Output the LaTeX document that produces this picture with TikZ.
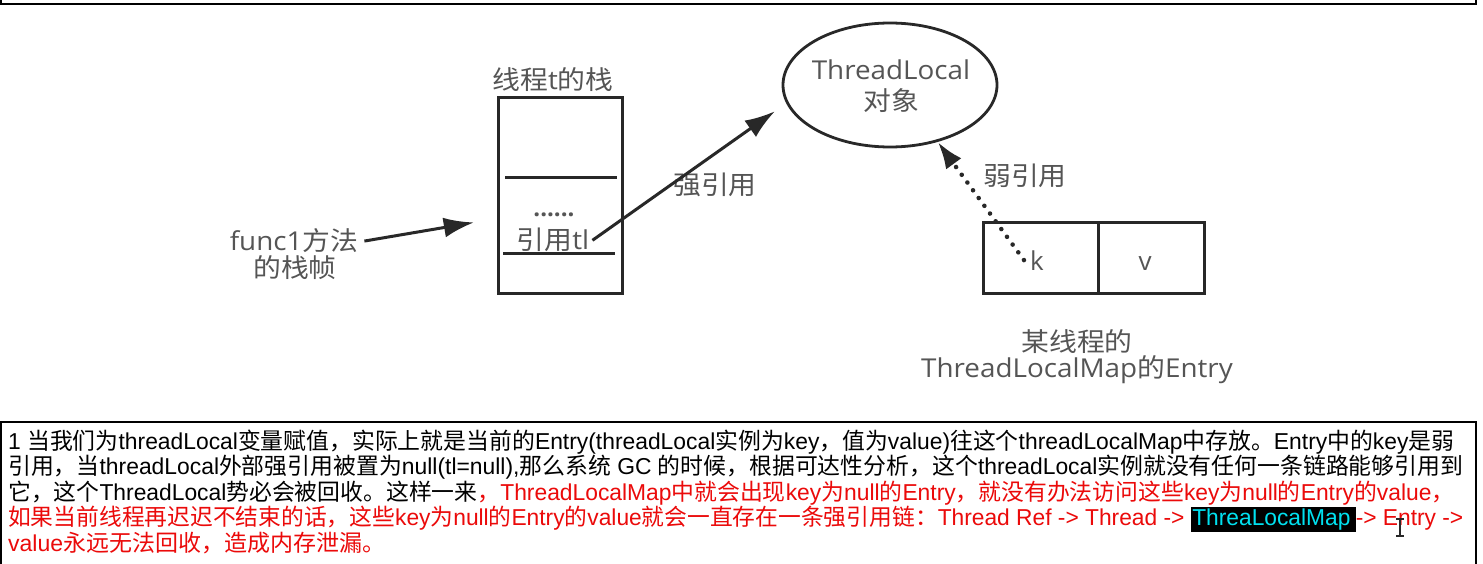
\documentclass[tikz,border=0pt]{standalone}
\usepackage{fontspec}
\usepackage{graphicx}
\usetikzlibrary{arrows.meta,shapes.geometric}
\setmainfont{Open Sans}
\newfontfamily\diaglatin{Open Sans}
\newfontfamily\textlatin{Liberation Sans}
\newfontfamily\cjkfont{Noto Sans CJK SC}
\def\curlatin{\diaglatin}
% automatic switching between Latin and CJK fonts
\newcount\cjkcc
\cjkcc="4E00
\loop\XeTeXcharclass\cjkcc=7 \advance\cjkcc by 1 \ifnum\cjkcc<"A000 \repeat
\cjkcc="3000
\loop\XeTeXcharclass\cjkcc=7 \advance\cjkcc by 1 \ifnum\cjkcc<"3040 \repeat
\cjkcc="FF00
\loop\XeTeXcharclass\cjkcc=7 \advance\cjkcc by 1 \ifnum\cjkcc<"FFF0 \repeat
\newcount\cjkk
\cjkk=0
\loop
\XeTeXinterchartoks\cjkk 7 = {\cjkfont}
\XeTeXinterchartoks 7 \cjkk = {\curlatin}
\advance\cjkk by 1
\ifnum\cjkk<7 \repeat
\XeTeXinterchartoks 4095 7 = {\cjkfont}
\XeTeXinterchartoks 7 4095 = {\curlatin}
\XeTeXinterchartokenstate=1
\definecolor{tg}{RGB}{85,85,85}
\definecolor{dk}{RGB}{40,40,40}
\definecolor{tred}{RGB}{235,10,10}
\definecolor{tcyan}{RGB}{0,225,240}
\newcommand\dfont{\fontsize{26}{28}\selectfont\diaglatin}
\newcommand\sx[1]{\scalebox{1.07}[1]{#1}}
\newcommand\bfnt{\fontsize{23}{25.5}\selectfont\textlatin\def\curlatin{\textlatin}}
\begin{document}
\begin{tikzpicture}[x=1pt,y=-1pt,
  lbl/.style={font=\dfont, text=tg, inner sep=0pt, anchor=base},
  arr/.style={-{Latex[length=30pt,width=20pt]}, line width=3pt, draw=dk},
  warr/.style={-{Latex[length=27pt,width=19pt]}, line width=4.5pt, draw=dk,
     dash pattern=on 0.1pt off 9.5pt, line cap=round},
  boxline/.style={draw=dk, line width=3pt},
  btxt/.style={anchor=base west, inner sep=0pt, font=\bfnt}]
\useasboundingbox (0,0) rectangle (1483,564);
\clip (0,0) rectangle (1483,564);
\fill[white] (0,0) rectangle (1483,564);
% top frame
\draw[line width=2pt, draw=black] (1,-10) rectangle (1476,4);
% stack
\node[boxline, rectangle, minimum width=124pt, minimum height=195pt, inner sep=0pt] (stack) at (560,195.5) {};
\draw[boxline] (505,178) -- (617,178);
\draw[boxline] (503,253) -- (615,253);
\node[lbl] (stacklbl) at (553,90) {\sx{线程t的栈}};
\node[lbl, font=\fontsize{24}{26}\selectfont\bfseries\diaglatin] (dots) at (554,217) {......};
\node[lbl, inner xsep=3pt] (ref) at (553,250) {\sx{引用tl}};
% func1
\node[lbl, inner xsep=6pt] (func) at (294,251) {\sx{func1方法}};
\node[lbl] (func2) at (295,277) {\sx{的栈帧}};
% ThreadLocal object
\node[ellipse, draw=dk, line width=2.8pt, minimum width=214pt, minimum height=124pt, inner sep=0pt] (tl) at (890,85) {};
\node[lbl] (tlt1) at (891,80) {\sx{ThreadLocal}};
\node[lbl] (tlt2) at (891,111) {\sx{对象}};
% entry
\node[boxline, rectangle, minimum width=115pt, minimum height=70pt, inner sep=0pt] (kcell) at (1040.5,258) {};
\node[boxline, rectangle, minimum width=106pt, minimum height=70pt, inner sep=0pt] (vcell) at (1151,258) {};
\node[lbl, inner xsep=6pt] (ktext) at (1037,270) {k};
\node[lbl] (vtext) at (1145,270) {v};
\node[lbl] (elbl1) at (1077,351) {\sx{某线程的}};
\node[lbl] (elbl2) at (1077,377) {\sx{ThreadLocalMap的Entry}};
% labels of the references
\node[lbl] (strong) at (715,195) {\sx{强引用}};
\node[lbl] (weak) at (1025,186) {\sx{弱引用}};
% connectors
\draw[arr, shorten >=23pt] (func.east) -- (stack.200);
\draw[arr, shorten >=14pt] (ref.east) -- (tl.190);
\draw[warr] (ktext.west) -- (tl.-50);
% bottom text frame
\draw[line width=2pt, draw=black] (1,422) rectangle (1476,600);
\node[btxt] (l1) at (8,449) {\resizebox{1446pt}{\height}{1 当我们为threadLocal变量赋值，实际上就是当前的Entry(threadLocal实例为key，值为value)往这个threadLocalMap中存放。Entry中的key是弱}};
\node[btxt] (l2) at (8,474.5) {\resizebox{1455pt}{\height}{引用，当threadLocal外部强引用被置为null(tl=null),那么系统 GC 的时候，根据可达性分析，这个threadLocal实例就没有任何一条链路能够引用到}};
\node[btxt] (l3) at (8,500) {\resizebox{1446pt}{\height}{它，这个ThreadLocal势必会被回收。这样一来{\color{tred}，ThreadLocalMap中就会出现key为null的Entry，就没有办法访问这些key为null的Entry的value，}}};
\node[btxt] (l4) at (8,525.5) {\resizebox{1455pt}{\height}{\color{tred}如果当前线程再迟迟不结束的话，这些key为null的Entry的value就会一直存在一条强引用链：Thread Ref -> Thread -> {\setlength\fboxsep{1.5pt}\colorbox{black}{\color{tcyan}ThreaLocalMap\,}}-> Entry ->}};
\node[btxt, text=tred] (l5) at (8,551) {value永远无法回收，造成内存泄漏。};
% text cursor
\draw[line width=1.3pt, draw=dk] (1400,519) -- (1400,536) (1396,519) -- (1404,519) (1396,536) -- (1404,536);
\end{tikzpicture}
\end{document}
